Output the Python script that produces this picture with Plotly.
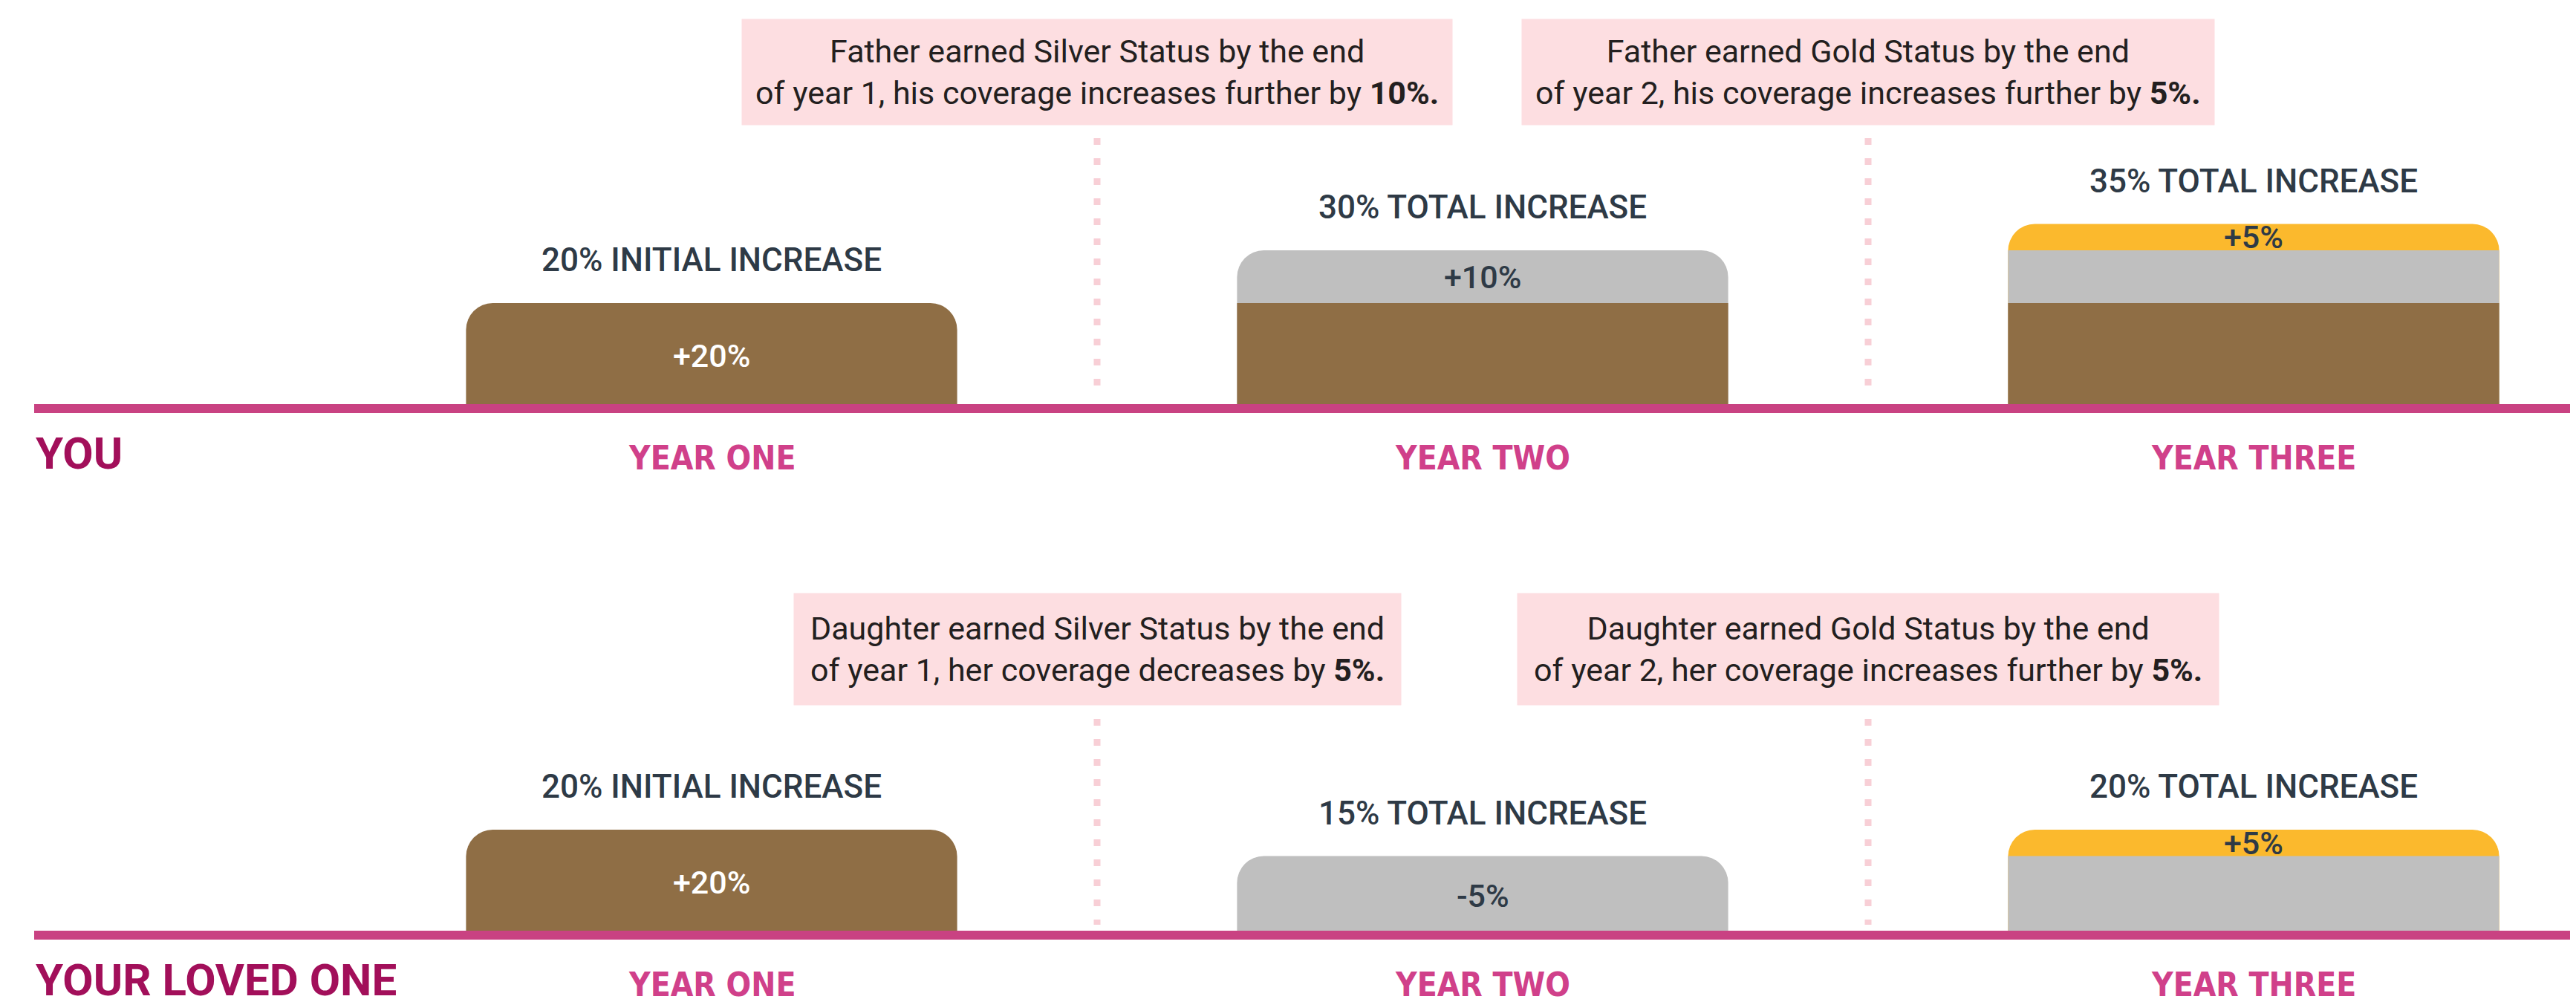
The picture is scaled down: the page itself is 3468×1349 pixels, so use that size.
import plotly.graph_objects as go

W, H = 3468, 1349

# ---------------- data ----------------
YEARS = ["YEAR ONE", "YEAR TWO", "YEAR THREE"]
PANELS = ["YOU", "YOUR LOVED ONE"]

# coverage increase (%) reached at each status level, per year
YOU_BRONZE = [20, 20, 20]
YOU_SILVER = [None, 30, 30]
YOU_GOLD = [None, None, 35]
YOU_TOTAL_LABELS = ["20% INITIAL INCREASE", "30% TOTAL INCREASE", "35% TOTAL INCREASE"]
YOU_CHANGE_LABELS = ["+20%", "+10%", "+5%"]
YOU_NOTES = [
    "Father earned Silver Status by the end<br>of year 1, his coverage increases further by <b>10%.</b>",
    "Father earned Gold Status by the end<br>of year 2, his coverage increases further by <b>5%.</b>",
]

LOVED_BRONZE = [20, None, None]
LOVED_SILVER = [None, 15, 15]
LOVED_GOLD = [None, None, 20]
LOVED_TOTAL_LABELS = ["20% INITIAL INCREASE", "15% TOTAL INCREASE", "20% TOTAL INCREASE"]
LOVED_CHANGE_LABELS = ["+20%", "-5%", "+5%"]
LOVED_NOTES = [
    "Daughter earned Silver Status by the end<br>of year 1, her coverage decreases by <b>5%.</b>",
    "Daughter earned Gold Status by the end<br>of year 2, her coverage increases further by <b>5%.</b>",
]

# ---------------- styles / layout ----------------
PINK_LINE = "#C94282"
BROWN = "#8F6E45"
SILVER = "#BFBFBF"
GOLD = "#FBB92D"
NOTE_BG = "#FDDEE1"
DOT = "#F8CFD6"
PANEL_LABEL_COLOR = "#A20F5A"
YEAR_LABEL = "#D0408A"
DARK = "#2E3A46"
NOTE_TEXT = "#231F20"

FONT = "Roboto, Inter, 'Open Sans', sans-serif"
COND = "'Liberation Sans Narrow', 'DejaVu Sans Condensed', 'Roboto Condensed', 'Arial Narrow', Roboto, sans-serif"

ML = 38
PX_PER_UNIT = 7.1
Y_RANGE = [-10, 60]
BASELINE_PX = [542, 1251]
NOTE_CENTER_PX = [89, 866]
NOTE_PAD = [18, 22]
SEP_PX = [(178, 527), (960, 1237)]
X_FIRST_PX, X_LAST_PX = 950, 3026
BAR_W = 0.637

unit = (X_LAST_PX - X_FIRST_PX) / 2
x_range = [(ML - X_FIRST_PX) / unit, (W - X_FIRST_PX) / unit]


def py(px):
    return 1 - px / H


panels = [
    (YOU_BRONZE, YOU_SILVER, YOU_GOLD, YOU_TOTAL_LABELS, YOU_CHANGE_LABELS, YOU_NOTES),
    (LOVED_BRONZE, LOVED_SILVER, LOVED_GOLD, LOVED_TOTAL_LABELS, LOVED_CHANGE_LABELS, LOVED_NOTES),
]

fig = go.Figure()
annotations = []
shapes = []
layout_axes = {}

for p, (bronze, silver, gold, totals_txt, change_txt, notes) in enumerate(panels):
    xa = "x" if p == 0 else "x2"
    ya = "y" if p == 0 else "y2"
    xkey = "xaxis" if p == 0 else "xaxis2"
    ykey = "yaxis" if p == 0 else "yaxis2"
    base = BASELINE_PX[p]
    top_px = base - Y_RANGE[1] * PX_PER_UNIT
    bot_px = base - Y_RANGE[0] * PX_PER_UNIT
    layout_axes[xkey] = dict(domain=[0, 1], anchor=ya, type="category", range=x_range,
                             visible=False, fixedrange=True)
    layout_axes[ykey] = dict(domain=[py(bot_px), py(top_px)], anchor=xa, range=Y_RANGE,
                             visible=False, fixedrange=True)

    for vals, col in ((gold, GOLD), (silver, SILVER), (bronze, BROWN)):
        fig.add_trace(go.Bar(
            x=YEARS, y=vals, xaxis=xa, yaxis=ya, width=BAR_W,
            marker=dict(color=col, line=dict(width=0), cornerradius=36),
            hoverinfo="skip", showlegend=False,
        ))

    for i, yr in enumerate(YEARS):
        layers = [(v, c) for v, c in ((bronze[i], BROWN), (silver[i], SILVER), (gold[i], GOLD)) if v]
        layers.sort(key=lambda t: t[0])
        top_v, top_c = layers[-1]
        low_v = layers[-2][0] if len(layers) > 1 else 0
        # change label centred in the visible top band
        annotations.append(dict(
            x=yr, y=(top_v + low_v) / 2, xref=xa, yref=ya, yanchor="middle", text=change_txt[i],
            showarrow=False, font=dict(family=FONT, size=43, weight=500,
                                       color="#FFFFFF" if top_c == BROWN else DARK)))
        # total label above the bar
        annotations.append(dict(
            x=yr, y=top_v, xref=xa, yref=ya, yanchor="middle", yshift=58, text=totals_txt[i],
            showarrow=False, font=dict(family=FONT, size=44, weight=500, color=DARK)))
        # year label under the line
        annotations.append(dict(
            x=yr, y=0, xref=xa, yref=ya, yanchor="middle", yshift=-66, text=yr, showarrow=False,
            font=dict(family=COND, size=44, weight="bold", color=YEAR_LABEL)))

    # panel label
    annotations.append(dict(
        x=0, y=0, xref="paper", yref=ya, yanchor="middle", yshift=-60, xanchor="left",
        text=PANELS[p], showarrow=False,
        font=dict(family=FONT, size=60, weight="bold", color=PANEL_LABEL_COLOR)))

    # notes + dotted separators between years
    for k, note in enumerate(notes):
        annotations.append(dict(
            x=k + 0.5, y=py(NOTE_CENTER_PX[p]), xref=xa, yref="paper", yanchor="middle",
            text=note, showarrow=False, bgcolor=NOTE_BG, borderpad=NOTE_PAD[p], align="center",
            font=dict(family=FONT, size=43, color=NOTE_TEXT)))
        shapes.append(dict(
            type="line", xref=xa, yref="paper", x0=k + 0.5, x1=k + 0.5,
            y0=py(SEP_PX[p][0]), y1=py(SEP_PX[p][1]),
            line=dict(color=DOT, width=9, dash="9px,18px"), layer="below"))

    # pink baseline
    shapes.append(dict(
        type="line", xref="paper", yref=ya, x0=0, x1=1, y0=0, y1=0,
        line=dict(color=PINK_LINE, width=12), layer="above"))

fig.update_layout(
    width=W, height=H,
    margin=dict(l=ML, r=0, t=0, b=0),
    paper_bgcolor="#FFFFFF", plot_bgcolor="#FFFFFF",
    barmode="overlay", hovermode=False, showlegend=False,
    annotations=annotations, shapes=shapes,
    **layout_axes,
)

fig.write_html("out.html", config={"displayModeBar": False})
